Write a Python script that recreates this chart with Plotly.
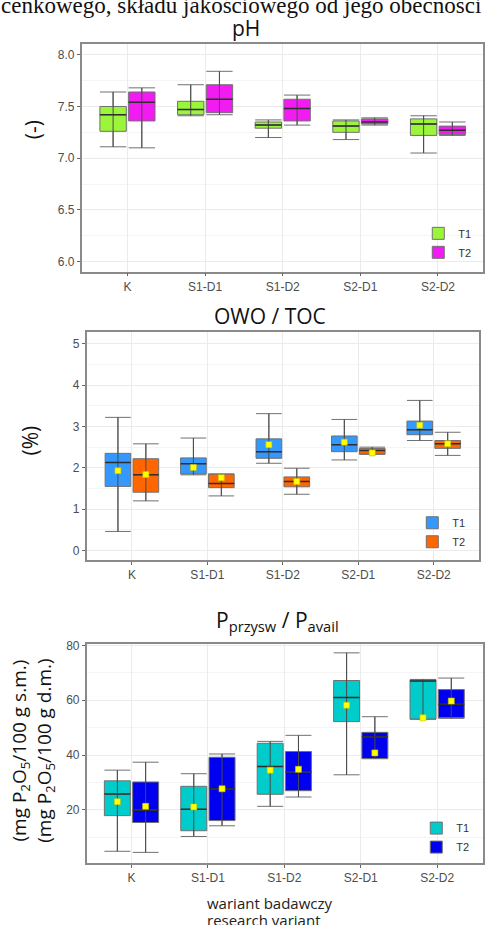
import plotly.graph_objects as go

W, H = 485, 925

categories = ["K", "S1-D1", "S1-D2", "S2-D1", "S2-D2"]
series_names = ["T1", "T2"]

# ---- pH ----
ph_t1_lo = [7.11, 7.41, 7.20, 7.18, 7.05]
ph_t1_q1 = [7.26, 7.42, 7.29, 7.25, 7.22]
ph_t1_med = [7.42, 7.47, 7.32, 7.31, 7.33]
ph_t1_q3 = [7.50, 7.55, 7.35, 7.36, 7.38]
ph_t1_hi = [7.64, 7.71, 7.37, 7.37, 7.41]
ph_t2_lo = [7.10, 7.42, 7.32, 7.32, 7.22]
ph_t2_q1 = [7.36, 7.44, 7.36, 7.33, 7.23]
ph_t2_med = [7.54, 7.57, 7.48, 7.35, 7.27]
ph_t2_q3 = [7.64, 7.71, 7.57, 7.38, 7.31]
ph_t2_hi = [7.68, 7.84, 7.61, 7.39, 7.35]

# ---- OWO / TOC ----
toc_t1_lo = [0.46, 1.83, 2.11, 2.19, 2.66]
toc_t1_q1 = [1.55, 1.85, 2.23, 2.39, 2.80]
toc_t1_med = [2.13, 2.10, 2.39, 2.56, 2.92]
toc_t1_q3 = [2.35, 2.24, 2.70, 2.77, 3.13]
toc_t1_hi = [3.22, 2.72, 3.31, 3.17, 3.63]
toc_t1_mean = [1.93, 2.01, 2.56, 2.62, 3.03]
toc_t2_lo = [1.20, 1.32, 1.36, 2.33, 2.30]
toc_t2_q1 = [1.41, 1.52, 1.54, 2.33, 2.47]
toc_t2_med = [1.83, 1.62, 1.67, 2.42, 2.58]
toc_t2_q3 = [2.22, 1.85, 1.78, 2.47, 2.66]
toc_t2_hi = [2.58, 1.85, 1.99, 2.50, 2.86]
toc_t2_mean = [1.84, 1.76, 1.67, 2.36, 2.58]

# ---- P avail ----
p_t1_lo = [4.9, 10.3, 21.3, 32.8, 53.1]
p_t1_q1 = [17.9, 12.4, 25.7, 52.2, 53.1]
p_t1_med = [25.8, 20.2, 35.8, 61.0, 67.0]
p_t1_q3 = [30.6, 28.6, 44.3, 67.2, 67.5]
p_t1_hi = [34.5, 33.2, 45.0, 77.3, 67.6]
p_t1_mean = [23.0, 21.1, 34.5, 58.2, 53.6]
p_t2_lo = [4.5, 14.2, 24.7, 38.7, 53.4]
p_t2_q1 = [15.4, 16.1, 27.0, 38.7, 53.6]
p_t2_med = [19.9, 27.7, 33.9, 46.7, 58.5]
p_t2_q3 = [30.2, 39.2, 41.3, 48.3, 63.9]
p_t2_hi = [37.4, 40.4, 47.2, 54.0, 68.1]
p_t2_mean = [21.3, 27.7, 34.8, 40.8, 59.7]

# styling
OFFSETS = [-0.185, 0.185]
BOXW = 0.34
BOX_LINE = "#707070"
WHISK = "#4a4a4a"
MED = "#2e2e2e"
TICKFONT = dict(family="Liberation Sans, Arial", size=12, color="#4d4d4d")

fig = go.Figure()


def add_panel(ax, leg, colors, stats, means):
    xa = "x" if ax == 1 else f"x{ax}"
    ya = "y" if ax == 1 else f"y{ax}"
    for s, (name, col) in enumerate(zip(series_names, colors)):
        lo, q1, med, q3, hi = stats[s]
        pos = [i + 1 + OFFSETS[s] for i in range(len(categories))]
        fig.add_trace(go.Box(
            x=pos, q1=q1, median=med, q3=q3, lowerfence=lo, upperfence=hi,
            width=BOXW, whiskerwidth=1, fillcolor=col,
            line=dict(color=BOX_LINE, width=1), boxpoints=False,
            name=name, legend=leg, xaxis=xa, yaxis=ya, hoverinfo="skip"))
    for s in range(2):
        lo, q1, med, q3, hi = stats[s]
        pos = [i + 1 + OFFSETS[s] for i in range(len(categories))]
        vx, vy, mx, my = [], [], [], []
        for p, a, b, m in zip(pos, lo, hi, med):
            vx += [p, p, None]
            vy += [a, b, None]
            mx += [p - BOXW / 2, p + BOXW / 2, None]
            my += [m, m, None]
        fig.add_trace(go.Scatter(x=vx, y=vy, mode="lines",
                                 line=dict(color=WHISK, width=1),
                                 showlegend=False, xaxis=xa, yaxis=ya, hoverinfo="skip"))
        fig.add_trace(go.Scatter(x=mx, y=my, mode="lines",
                                 line=dict(color=MED, width=1.5),
                                 showlegend=False, xaxis=xa, yaxis=ya, hoverinfo="skip"))
        if means is not None:
            fig.add_trace(go.Scatter(x=pos, y=means[s], mode="markers",
                                     marker=dict(symbol="square", size=6, color="#FFFF00",
                                                 line=dict(color="#C8C000", width=0.6)),
                                     showlegend=False, xaxis=xa, yaxis=ya, hoverinfo="skip"))


add_panel(1, "legend", ["#9BF53A", "#F21CF2"],
          [(ph_t1_lo, ph_t1_q1, ph_t1_med, ph_t1_q3, ph_t1_hi),
           (ph_t2_lo, ph_t2_q1, ph_t2_med, ph_t2_q3, ph_t2_hi)], None)
add_panel(2, "legend2", ["#3399FF", "#FF6600"],
          [(toc_t1_lo, toc_t1_q1, toc_t1_med, toc_t1_q3, toc_t1_hi),
           (toc_t2_lo, toc_t2_q1, toc_t2_med, toc_t2_q3, toc_t2_hi)],
          [toc_t1_mean, toc_t2_mean])
add_panel(3, "legend3", ["#00CCCC", "#0000F0"],
          [(p_t1_lo, p_t1_q1, p_t1_med, p_t1_q3, p_t1_hi),
           (p_t2_lo, p_t2_q1, p_t2_med, p_t2_q3, p_t2_hi)],
          [p_t1_mean, p_t2_mean])


def px_x(p):
    return p / W


def px_y(p):
    return 1 - p / H


def xaxis(dom, rng, anchor):
    return dict(domain=dom, range=rng, anchor=anchor,
                tickvals=list(range(1, len(categories) + 1)), ticktext=categories,
                tickfont=TICKFONT, ticks="outside", ticklen=3, tickcolor="#666",
                showgrid=True, gridcolor="#EBEBEB", gridwidth=1,
                showline=True, mirror=True, linecolor="#8a8a8a", linewidth=1.5,
                zeroline=False, fixedrange=True)


def yaxis(dom, rng, anchor, dtick, minor_dtick, tickformat=None, tick0=0):
    d = dict(domain=dom, range=rng, anchor=anchor, dtick=dtick, tick0=tick0,
             tickfont=TICKFONT, ticks="outside", ticklen=3, tickcolor="#666",
             showgrid=True, gridcolor="#EBEBEB", gridwidth=1,
             minor=dict(dtick=minor_dtick, tick0=tick0, showgrid=True,
                        gridcolor="#F4F4F4", gridwidth=1, ticks=""),
             showline=True, mirror=True, linecolor="#8a8a8a", linewidth=1.5,
             zeroline=False, fixedrange=True)
    if tickformat:
        d["tickformat"] = tickformat
    return d


fig.update_layout(
    width=W, height=H,
    margin=dict(l=0, r=0, t=0, b=0),
    paper_bgcolor="white", plot_bgcolor="white",
    boxmode="overlay",
    font=dict(family="Open Sans, DejaVu Sans", color="#222"),
    xaxis=xaxis([px_x(82), 1.0], [0.41, 5.58], "y"),
    yaxis=yaxis([px_y(268), px_y(39)], [5.904, 8.106], "x", 0.5, 0.25, ".1f"),
    xaxis2=xaxis([px_x(87), px_x(481)], [0.4, 5.6], "y2"),
    yaxis2=yaxis([px_y(558), px_y(329)], [-0.23, 5.28], "x2", 1, 0.5),
    xaxis3=xaxis([px_x(87), 1.0], [0.413, 5.60], "y3"),
    yaxis3=yaxis([px_y(863), px_y(642)], [0.5, 80.7], "x3", 20, 10),
    showlegend=True,
)

legend_common = dict(bgcolor="rgba(0,0,0,0)", borderwidth=0,
                     font=dict(family="Liberation Sans, Arial", size=11, color="#333"),
                     itemwidth=30, tracegroupgap=0, xanchor="left", yanchor="top",
                     xref="paper", yref="paper")
fig.update_layout(
    legend=dict(x=px_x(420), y=px_y(215), **legend_common),
    legend2=dict(x=px_x(414), y=px_y(506), **legend_common),
    legend3=dict(x=px_x(418), y=px_y(813), **legend_common),
)

ann = []
title_font = dict(family="Open Sans, DejaVu Sans", size=21, color="#111")
ann.append(dict(text="pH", x=px_x(247), y=px_y(23), xref="paper", yref="paper",
                showarrow=False, font=title_font, xanchor="center", yanchor="middle"))
ann.append(dict(text="OWO / TOC", x=px_x(271), y=px_y(313), xref="paper", yref="paper",
                showarrow=False, font=title_font, xanchor="center", yanchor="middle"))
ann.append(dict(text="P<sub>przysw</sub> / P<sub>avail</sub>", x=px_x(279), y=px_y(619),
                xref="paper", yref="paper",
                showarrow=False, font=title_font, xanchor="center", yanchor="middle"))
axt_font = dict(family="Open Sans, DejaVu Sans", size=21, color="#111")
ann.append(dict(text="(-)", x=px_x(33), y=px_y(125), xref="paper", yref="paper",
                showarrow=False, font=axt_font, textangle=-90,
                xanchor="center", yanchor="middle"))
ann.append(dict(text="(%)", x=px_x(30), y=px_y(438), xref="paper", yref="paper",
                showarrow=False, font=axt_font, textangle=-90,
                xanchor="center", yanchor="middle"))
ann.append(dict(text="(mg P<sub>2</sub>O<sub>5</sub>/100 g s.m.)<br>(mg P<sub>2</sub>O<sub>5</sub>/100 g d.m.)",
                x=px_x(33), y=px_y(750), xref="paper", yref="paper",
                showarrow=False, font=dict(family="Open Sans, DejaVu Sans", size=19, color="#111"),
                textangle=-90, xanchor="center", yanchor="middle"))
xt_font = dict(family="Open Sans, DejaVu Sans", size=15, color="#222")
ann.append(dict(text="wariant badawczy", x=px_x(206), y=px_y(903),
                xref="paper", yref="paper", showarrow=False, font=xt_font,
                xanchor="left", yanchor="middle"))
ann.append(dict(text="research variant", x=px_x(206), y=px_y(920),
                xref="paper", yref="paper", showarrow=False, font=xt_font,
                xanchor="left", yanchor="middle"))
ann.append(dict(text="cenkowego, składu jakościowego od jego obecności",
                x=px_x(242), y=px_y(0), xref="paper", yref="paper",
                showarrow=False, font=dict(family="Liberation Serif", size=23, color="#111"),
                xanchor="center", yanchor="middle"))
fig.update_layout(annotations=ann)

fig.write_html("out.html", config={"displayModeBar": False},
               post_script="document.body.style.margin='0px';document.body.style.padding='0px';")
